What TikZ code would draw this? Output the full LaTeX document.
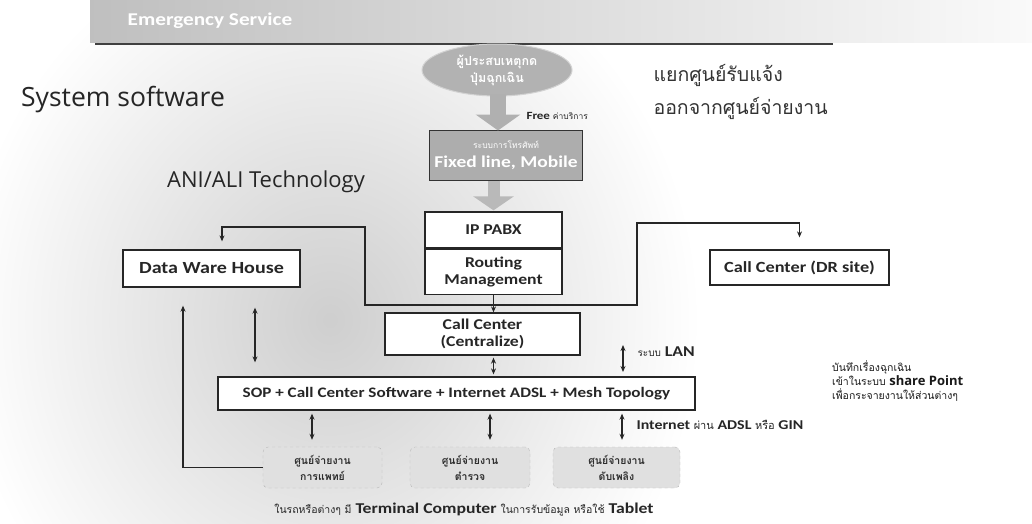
\documentclass[tikz,border=0pt]{standalone}
\usepackage{fontspec}
\setmainfont[FakeStretch=1.18]{Carlito}
\newfontfamily\thaifont[Script=Thai]{Loma}
\newfontfamily\opensans{Open Sans}
\usetikzlibrary{shapes.geometric,arrows.meta,calc}
\newcommand\fsz[2]{\fontsize{#1}{#2}\selectfont}
\begin{document}
\begin{tikzpicture}[x=1pt,y=-1pt,
  box/.style={draw=black!85, line width=1.3pt, fill=white, inner sep=2pt,
    font=\bfseries\fsz{15}{17}, align=center, text=black!85},
  conn/.style={draw=black!85, line width=1.3pt, -{Stealth[length=6pt,width=5pt]}},
  dconn/.style={draw=black!85, line width=1.3pt,
    {Stealth[length=6pt,width=5pt]}-{Stealth[length=6pt,width=5pt]}},
  unit/.style={draw=gray!55, dashed, rounded corners=5pt, fill=gray!24,
    minimum height=41pt, align=center, font=\thaifont\bfseries\fsz{10.5}{16}, text=gray!35!black},
  big/.style={line width=16pt, draw=gray!62,
    -{Triangle[width=44pt,length=16pt]}},
]
\useasboundingbox (0,0) rectangle (1032,523);
% background texture
\begin{scope}
  \clip (0,0) rectangle (1032,523);
  \shade[inner color=gray!38, outer color=white] (330,320) ellipse (370 and 400);
  \shade[left color=gray!50, right color=gray!4] (90,0) rectangle (1032,42);
\end{scope}
\draw[black!75, line width=1.5pt] (95,44) -- (833,44);
\node[font=\bfseries\fsz{18}{20}, text=white] (head) at (210,21) {Emergency Service};

\node[font=\opensans\fsz{26.5}{28}, text=black!85] (sys) at (123,100) {System software};
\node[anchor=west, font=\thaifont\fsz{19.5}{22}, text=black!80] (r1) at (650,75) {แยกศูนย์รับแจ้ง};
\node[anchor=west, font=\thaifont\fsz{19.5}{22}, text=black!80] (r2) at (650,108) {ออกจากศูนย์จ่ายงาน};

% top chain
\node[ellipse, draw=gray!35, line width=1pt, fill=gray!60, minimum width=150pt, minimum height=52pt,
  inner sep=0pt, align=center, font=\thaifont\bfseries\fsz{12.5}{17}, text=white] (ell) at (497,70)
  {ผู้ประสบเหตุกด\\ปุ่มฉุกเฉิน};
\node[draw=black!80, line width=1pt, fill=gray!64, minimum width=153pt, minimum height=50pt,
  inner sep=1pt, align=center, text=white, font=\bfseries\fsz{16.5}{19}] (fix) at (506,155)
  {{\thaifont\mdseries\fsz{8.5}{10}ระบบการโทรศัพท์}\\Fixed line, Mobile};
\draw[big] (ell.south -| 498,0) ++(0,-3) -- ([yshift=-1pt]fix.north -| 498,0);
\node[anchor=west, font=\bfseries\fsz{11}{12}, text=black!85] (free) at (523,116)
  {Free {\thaifont\mdseries\fsz{8.5}{10}ค่าบริการ}};
\node[font=\opensans\fsz{22}{24}, text=black!85] (ani) at (266,182) {ANI/ALI Technology};

\node[box, minimum width=137pt, minimum height=36pt] (pabx) at (493.5,230) {IP PABX};
\node[box, minimum width=137pt, minimum height=45pt, anchor=north] (route) at (pabx.south)
  {Routing\\Management};
\draw[big, draw=gray!55, line width=12pt, -{Triangle[width=40pt,length=14pt]}]
  (fix.south -| pabx) -- ([yshift=1pt]pabx.north);

\node[box, minimum width=177pt, minimum height=37pt, font=\bfseries\fsz{17}{19}] (dwh) at (211.5,268.5) {Data Ware House};
\node[box, minimum width=179pt, minimum height=35pt, font=\bfseries\fsz{15.5}{17}] (dr) at (799.5,267.5) {Call Center (DR site)};
\node[box, minimum width=195pt, minimum height=42pt] (cc) at (482.5,334) {Call Center\\(Centralize)};
\node[box, minimum width=477pt, minimum height=33pt, font=\bfseries\fsz{14.5}{17}] (sop) at (456.5,393.5)
  {SOP + Call Center Software + Internet ADSL + Mesh Topology};

\coordinate (j) at (route.south |- 0,305);
\draw[conn] (route.south) -- (route.south |- cc.north);
\draw[conn, shorten >=8pt] (j) -| (365,227) -| ([xshift=10.5pt]dwh.north);
\draw[conn, shorten >=12pt] (j) -| (637,223) -| (dr.north);
\draw[dconn, shorten <=2pt, shorten >=2pt] (cc.south -| j) -- (sop.north -| j);

% LAN
\coordinate (lan1) at (623,345);
\coordinate (lan2) at (623,372);
\draw[dconn] (lan1) -- (lan2);
\node[anchor=west, font=\bfseries\fsz{15}{17}, text=black!85] (lan) at (634,352)
  {{\thaifont\mdseries\fsz{10}{11}ระบบ} LAN};

% note
\node[anchor=west, align=left, font=\thaifont\fsz{10.5}{14}, text=black!90, inner sep=0pt] (note) at (832,381)
  {บันทึกเรื่องฉุกเฉิน\\เข้าในระบบ {\opensans\bfseries\fsz{13}{13}share Point}\\เพื่อกระจายงานให้ส่วนต่างๆ};

% dispatch units
\node[unit, minimum width=119pt] (b1) at (322.5,467.5) {ศูนย์จ่ายงาน\\การแพทย์};
\node[unit, minimum width=120pt] (b2) at (470,467.5) {ศูนย์จ่ายงาน\\ตำรวจ};
\node[unit, minimum width=127pt] (b3) at (616.5,467.5) {ศูนย์จ่ายงาน\\ดับเพลิง};

\draw[dconn, shorten <=3pt, shorten >=7pt] ([xshift=-10.5pt]b1.north |- sop.south) -- ([xshift=-10.5pt]b1.north);
\draw[dconn, shorten <=3pt, shorten >=7pt] ([xshift=20pt]b2.north |- sop.south) -- ([xshift=20pt]b2.north);
\draw[dconn, shorten <=3pt, shorten >=7pt] ([xshift=5.5pt]b3.north |- sop.south) -- ([xshift=5.5pt]b3.north);
\node[anchor=west, font=\bfseries\fsz{13.5}{15}, text=black!85] (inet) at (633,425)
  {Internet {\thaifont\mdseries\fsz{11}{12}ผ่าน} ADSL {\thaifont\mdseries\fsz{11}{12}หรือ} GIN};

% left connectors
\draw[conn, shorten >=18pt] (b1.west) -| ([xshift=-28.5pt]dwh.south);
\draw[dconn, shorten <=20pt, shorten >=14pt] ([xshift=43.5pt]dwh.south) -- ([xshift=43.5pt]dwh.south |- sop.north);

\node[font=\bfseries\fsz{15}{17}, text=black!85] (foot) at (464,510)
  {{\thaifont\mdseries\fsz{10.5}{12}ในรถหรือต่างๆ มี} Terminal Computer {\thaifont\mdseries\fsz{10.5}{12}ในการรับข้อมูล หรือใช้} Tablet};
\end{tikzpicture}
\end{document}
